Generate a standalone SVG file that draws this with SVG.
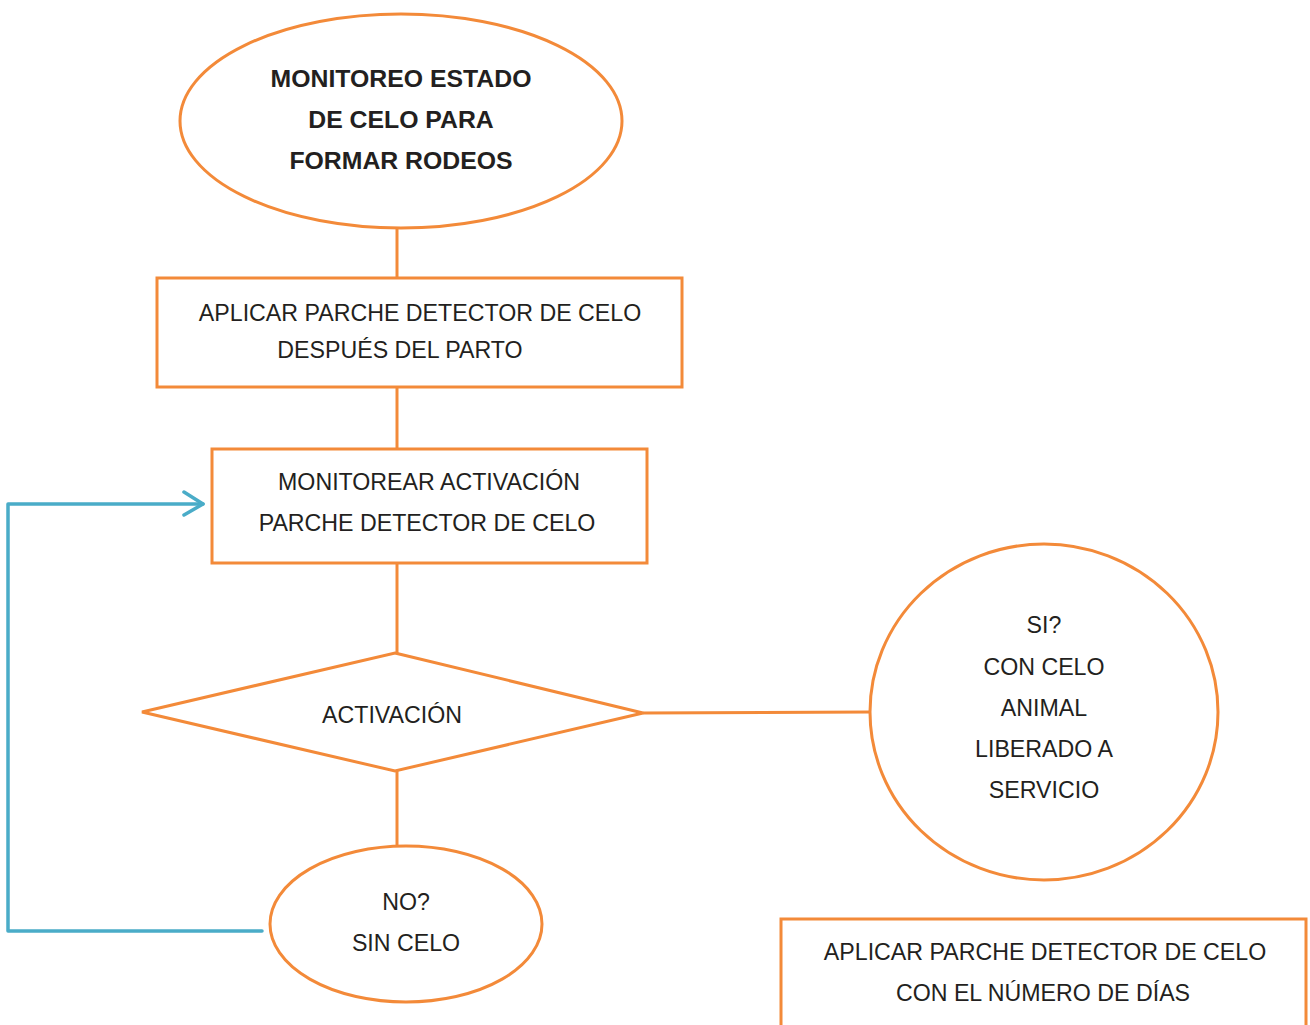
<svg xmlns="http://www.w3.org/2000/svg" width="1310" height="1025" viewBox="0 0 1310 1025">
<style>
.s{fill:#fff;stroke:#F38A39;stroke-width:3}
.c{fill:none;stroke:#F38A39;stroke-width:3}
.b{fill:none;stroke:#4AACC8;stroke-width:3.5;stroke-linecap:round;stroke-linejoin:round}
text{font-family:"Liberation Sans",Arial,sans-serif;font-size:23.2px;fill:#231F20;text-anchor:middle}
.bold{font-weight:bold;font-size:24.8px}
</style>
<rect width="1310" height="1025" fill="#fff"/>
<g id="connectors">
<line class="c" x1="397" y1="228" x2="397" y2="278"/>
<line class="c" x1="397" y1="387" x2="397" y2="449"/>
<line class="c" x1="397" y1="563" x2="397" y2="653"/>
<line class="c" x1="643" y1="713" x2="870" y2="712"/>
<line class="c" x1="397" y1="771" x2="397" y2="847"/>
<polyline class="b" points="262,931 8,931 8,504 203,504"/>
<polyline class="b" points="184,492 203,504 184,515"/>
</g>
<g id="start">
<ellipse class="s" cx="401" cy="121" rx="221" ry="107"/>
<text class="bold" x="401" y="87">MONITOREO ESTADO</text>
<text class="bold" x="401" y="128">DE CELO PARA</text>
<text class="bold" x="401" y="169">FORMAR RODEOS</text>
</g>
<g id="box1">
<rect class="s" x="157" y="278" width="525" height="109"/>
<text x="420" y="321">APLICAR PARCHE DETECTOR DE CELO</text>
<text x="400" y="358">DESPUÉS DEL PARTO</text>
</g>
<g id="box2">
<rect class="s" x="212" y="449" width="435" height="114"/>
<text x="429" y="490">MONITOREAR ACTIVACIÓN</text>
<text x="427" y="531">PARCHE DETECTOR DE CELO</text>
</g>
<g id="decision">
<polygon class="s" points="395,653 643,713 395,771 142,712"/>
<text x="392" y="723">ACTIVACIÓN</text>
</g>
<g id="yes">
<ellipse class="s" cx="1044" cy="712" rx="174" ry="168"/>
<text x="1044" y="633">SI?</text>
<text x="1044" y="675">CON CELO</text>
<text x="1044" y="716">ANIMAL</text>
<text x="1044" y="757">LIBERADO A</text>
<text x="1044" y="798">SERVICIO</text>
</g>
<g id="no">
<ellipse class="s" cx="406" cy="924" rx="136" ry="78"/>
<text x="406" y="910">NO?</text>
<text x="406" y="951">SIN CELO</text>
</g>
<g id="box3">
<rect class="s" x="781" y="919" width="525" height="120"/>
<text x="1045" y="960">APLICAR PARCHE DETECTOR DE CELO</text>
<text x="1043" y="1001">CON EL NÚMERO DE DÍAS</text>
</g>
</svg>
